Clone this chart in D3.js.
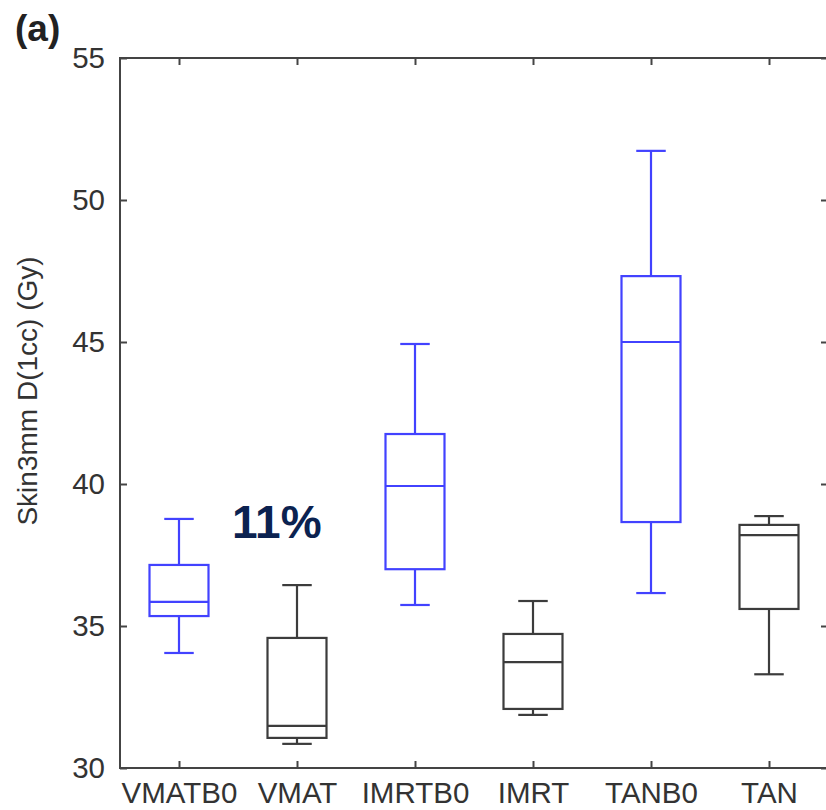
<!DOCTYPE html>
<html>
<head>
<meta charset="utf-8">
<script src="https://cdn.jsdelivr.net/npm/d3@7"></script>
<style>
  body { margin: 0; background: #fff; }
  svg { display: block; }
</style>
</head>
<body>
<svg id="svg" width="826" height="810"></svg>
<script>
// box plot values (Gy)
var categories = ["VMATB0", "VMAT", "IMRTB0", "IMRT", "TANB0", "TAN"];
var lowWhisker  = [34.05, 30.85, 35.74, 31.87, 36.16, 33.30];
var q1          = [35.35, 31.06, 37.00, 32.08, 38.66, 35.60];
var median      = [35.85, 31.48, 39.93, 33.73, 45.00, 38.20];
var q3          = [37.15, 34.58, 41.76, 34.72, 47.32, 38.56];
var highWhisker = [38.77, 36.44, 44.93, 35.88, 51.73, 38.87];
var yTicks = [30, 35, 40, 45, 50, 55];

var font = "'Liberation Sans', Arial, sans-serif";
var axisColor = "#444";
var blue = "#4242ff";
var black = "#3c3c3c";

const svg = d3.select('#svg');

// plot box (window.top is reserved, so no plain "top")
var plotLeft = 120, plotRight = 828, plotTop = 58, plotBottom = 768;

var x = d3.scaleLinear().domain([0.5, categories.length + 0.5]).range([plotLeft, plotRight]);
var y = d3.scaleLinear().domain([30, 55]).range([plotBottom, plotTop]);

// frame
svg.append("rect")
  .attr("x", plotLeft).attr("y", plotTop)
  .attr("width", plotRight - plotLeft).attr("height", plotBottom - plotTop)
  .style("fill", "none").style("stroke", axisColor).style("stroke-width", 2);

var xTickVals = categories.map((d, i) => i + 1);

var xAxis = d3.axisBottom(x).tickValues(xTickVals)
  .tickFormat((d) => categories[d - 1])
  .tickSizeInner(-7).tickSizeOuter(0).tickPadding(14);
var gx = svg.append("g").attr("transform", "translate(0," + plotBottom + ")").call(xAxis);

var xTop = d3.axisTop(x).tickValues(xTickVals).tickFormat("")
  .tickSizeInner(-7).tickSizeOuter(0);
var gxt = svg.append("g").attr("transform", "translate(0," + plotTop + ")").call(xTop);

var yAxis = d3.axisLeft(y).tickValues(yTicks)
  .tickSizeInner(-7).tickSizeOuter(0).tickPadding(15);
var gy = svg.append("g").attr("transform", "translate(" + plotLeft + ",0)").call(yAxis);

var yRight = d3.axisRight(y).tickValues(yTicks).tickFormat("")
  .tickSizeInner(-7).tickSizeOuter(0);
var gyr = svg.append("g").attr("transform", "translate(" + plotRight + ",0)").call(yRight);

[gx, gxt, gy, gyr].forEach(function(g){
  g.select(".domain").remove();
  g.selectAll(".tick line").style("stroke", axisColor).style("stroke-width", 2);
  g.selectAll("text")
    .style("font-family", font)
    .style("font-size", "29.5px")
    .style("fill", "#333");
});

// boxes
var boxHalf = 0.25, capHalf = 0.125;
var boxes = svg.append("g");
categories.forEach(function(c, i){
  var cx = i + 1;
  var col = (i % 2 == 0) ? blue : black;
  var g = boxes.append("g")
    .style("stroke", col).style("stroke-width", 2.2).style("fill", "none");
  // whiskers
  g.append("line").attr("x1", x(cx)).attr("x2", x(cx))
    .attr("y1", y(q3[i])).attr("y2", y(highWhisker[i]));
  g.append("line").attr("x1", x(cx)).attr("x2", x(cx))
    .attr("y1", y(q1[i])).attr("y2", y(lowWhisker[i]));
  // caps
  g.append("line").attr("x1", x(cx - capHalf)).attr("x2", x(cx + capHalf))
    .attr("y1", y(highWhisker[i])).attr("y2", y(highWhisker[i]));
  g.append("line").attr("x1", x(cx - capHalf)).attr("x2", x(cx + capHalf))
    .attr("y1", y(lowWhisker[i])).attr("y2", y(lowWhisker[i]));
  // box
  g.append("rect")
    .attr("x", x(cx - boxHalf)).attr("y", y(q3[i]))
    .attr("width", x(cx + boxHalf) - x(cx - boxHalf))
    .attr("height", y(q1[i]) - y(q3[i]));
  // median
  g.append("line").attr("x1", x(cx - boxHalf)).attr("x2", x(cx + boxHalf))
    .attr("y1", y(median[i])).attr("y2", y(median[i]));
});

// y label
svg.append("text")
  .attr("transform", "translate(37," + 391 + ") rotate(-90)")
  .attr("text-anchor", "middle")
  .style("font-family", font)
  .style("font-size", "28px")
  .style("fill", "#333")
  .text("Skin3mm D(1cc) (Gy)");

// panel letter
svg.append("text")
  .attr("x", 15).attr("y", 41)
  .style("font-family", font)
  .style("font-size", "37px")
  .style("font-weight", "bold")
  .style("fill", "#222")
  .text("(a)");

// annotation
svg.append("text")
  .attr("x", 232).attr("y", 538)
  .style("font-family", font)
  .style("font-size", "46px")
  .style("font-weight", "bold")
  .style("fill", "#0b2250")
  .text("11%");
</script>
</body>
</html>
